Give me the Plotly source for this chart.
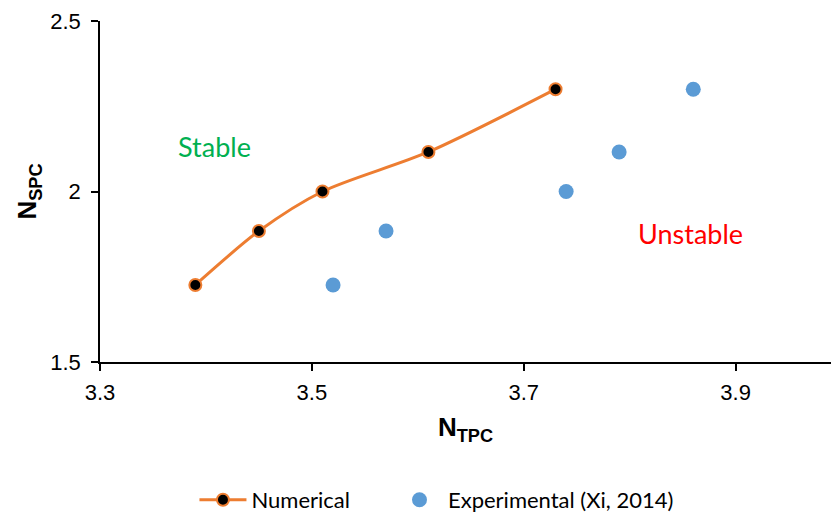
import plotly.graph_objects as go

# Numerical stability boundary
num_x = [3.39, 3.45, 3.51, 3.61, 3.73]
num_y = [1.726, 1.884, 2.0, 2.116, 2.30]

# Experimental data (Xi, 2014)
exp_x = [3.52, 3.57, 3.74, 3.79, 3.86]
exp_y = [1.726, 1.884, 2.0, 2.116, 2.30]

x_ticks = [3.3, 3.5, 3.7, 3.9]
x_tick_text = ["3.3", "3.5", "3.7", "3.9"]
y_ticks = [1.5, 2.0, 2.5]
y_tick_text = ["1.5", "2", "2.5"]

fig = go.Figure()

fig.add_trace(go.Scatter(
    x=num_x, y=num_y, mode="lines+markers", name="Numerical",
    line=dict(color="#ED7D31", width=3, shape="spline", smoothing=0.8),
    marker=dict(color="black", size=12, line=dict(color="#ED7D31", width=2)),
    legend="legend",
))
fig.add_trace(go.Scatter(
    x=exp_x, y=exp_y, mode="markers", name="Experimental (Xi, 2014)",
    marker=dict(color="#5B9BD5", size=15),
    legend="legend2",
))

fig.add_annotation(x=3.4085, y=2.133, text="Stable", showarrow=False,
                   font=dict(family="Lato", size=27, color="#00B050"))
fig.add_annotation(x=3.857, y=1.878, text="Unstable", showarrow=False,
                   font=dict(family="Lato", size=27, color="#FF0000"))

axis_common = dict(
    showgrid=False, zeroline=False, showline=True, linecolor="black", linewidth=1.5,
    ticks="outside", ticklen=7, tickwidth=1.5, tickcolor="black", automargin=False,
    tickfont=dict(family="Liberation Sans, Arial", size=22, color="black"),
)

legend_common = dict(
    orientation="h", xref="container", yref="container",
    xanchor="left", y=0.031, yanchor="middle",
    font=dict(family="Lato", size=22, color="black"),
    itemwidth=47,
)

fig.update_layout(
    width=831, height=516,
    margin=dict(l=100, r=0, t=21, b=154),
    plot_bgcolor="white", paper_bgcolor="white",
    xaxis=dict(range=[3.3, 3.99], tickvals=x_ticks, ticktext=x_tick_text,
               ticklabelstandoff=3,
               title=dict(text="<b>N<sub>TPC</sub></b>", standoff=14,
                          font=dict(family="Liberation Sans, Arial", size=26, color="black")),
               **axis_common),
    yaxis=dict(range=[1.5, 2.5], tickvals=y_ticks, ticktext=y_tick_text,
               ticklabelstandoff=6,
               title=dict(text="<b>N<sub>SPC</sub></b>", standoff=6,
                          font=dict(family="Liberation Sans, Arial", size=26, color="black")),
               **axis_common),
    legend=dict(x=0.234, **legend_common),
    legend2=dict(x=0.4705, **legend_common),
    showlegend=True,
)

fig.write_html("out.html")
